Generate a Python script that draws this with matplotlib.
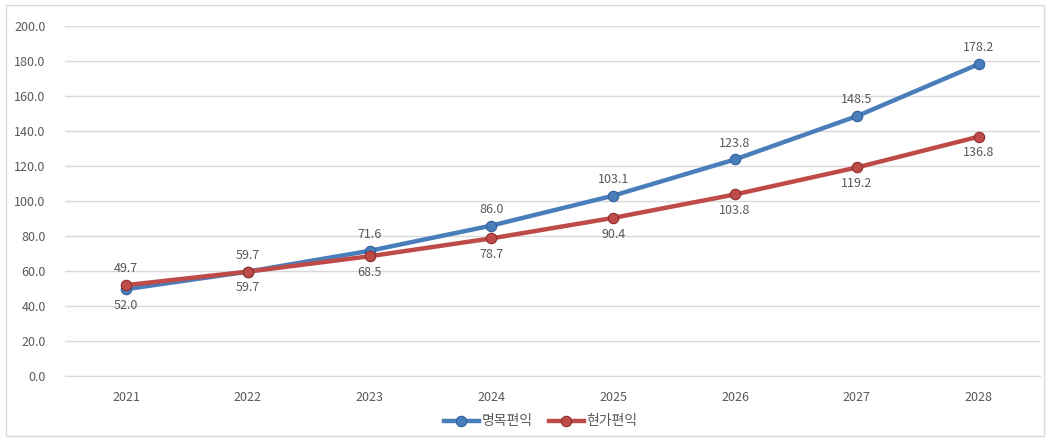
import matplotlib
matplotlib.use('Agg')
import matplotlib.pyplot as plt
from matplotlib.patches import Rectangle

plt.rcParams['font.family'] = ['Noto Sans CJK KR', 'DejaVu Sans']

# --- datos ---
years = ['2021', '2022', '2023', '2024', '2025', '2026', '2027', '2028']
nominal = [49.7, 59.7, 71.6, 86.0, 103.1, 123.8, 148.5, 178.2]   # 명목편익
present = [52.0, 59.7, 68.5, 78.7, 90.4, 103.8, 119.2, 136.8]   # 현가편익
series_names = ['명목편익', '현가편익']

BLUE = '#4a7ebb'
RED = '#be4b48'
TXT = '#595959'

fig = plt.figure(figsize=(10.5, 4.41), dpi=100)
ax = fig.add_axes([0.062, 0.147, 0.928, 0.794])

# borde exterior
fig.patches.append(Rectangle((0.006, 0.012), 0.988, 0.976, transform=fig.transFigure,
                             fill=False, edgecolor='#d9d9d9', linewidth=1))

x = range(len(years))
ax.plot(x, nominal, color=BLUE, lw=3.2, marker='o', ms=7.5,
        markerfacecolor=BLUE, markeredgecolor='#2f5f9a', mew=0.8, label=series_names[0], zorder=3)
ax.plot(x, present, color=RED, lw=3.2, marker='o', ms=7.5,
        markerfacecolor=RED, markeredgecolor='#8e2f2d', mew=0.8, label=series_names[1], zorder=4)

# etiquetas: azul arriba, rojo abajo
for i in x:
    ax.annotate(f'{nominal[i]:.1f}', (i, max(nominal[i], present[i])), xytext=(0, 7),
                textcoords='offset points', ha='center', va='bottom', fontsize=9, color=TXT)
    ax.annotate(f'{present[i]:.1f}', (i, min(nominal[i], present[i])), xytext=(0, -7),
                textcoords='offset points', ha='center', va='top', fontsize=9, color=TXT)

ax.set_xlim(-0.5, len(years) - 0.5)
ax.set_ylim(0, 200)
ax.set_yticks(range(0, 201, 20))
ax.set_yticklabels([f'{v:.1f}' for v in range(0, 201, 20)])
ax.set_xticks(list(x))
ax.set_xticklabels(years)
ax.tick_params(axis='both', length=0, labelsize=9, colors=TXT)
ax.tick_params(axis='x', pad=11)
ax.tick_params(axis='y', pad=14)
ax.grid(axis='y', color='#d9d9d9', lw=1)
ax.set_axisbelow(True)
for s in ['top', 'right', 'left']:
    ax.spines[s].set_visible(False)
ax.spines['bottom'].set_color('#d9d9d9')

fig.legend(loc='lower center', bbox_to_anchor=(0.515, 0.0), ncol=2, frameon=False,
           fontsize=10, handlelength=2.5, columnspacing=1.2, handletextpad=0.2,
           labelcolor=TXT)

fig.savefig('out.png')
